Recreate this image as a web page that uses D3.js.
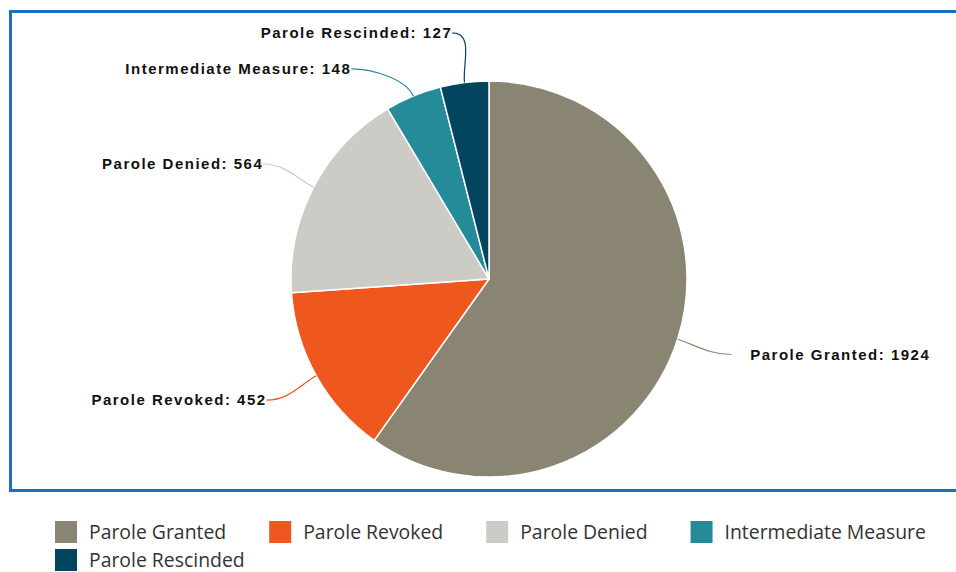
<!DOCTYPE html>
<html>
<head>
<meta charset="utf-8">
<script src="https://cdn.jsdelivr.net/npm/d3@7"></script>
<style>
  html, body { margin: 0; padding: 0; background: #fff; }
  svg { display: block; }
</style>
</head>
<body>
<svg id="chart" width="956" height="572"></svg>
<script>
// Parole outcomes, counts per category
const categories = ["Parole Granted", "Parole Revoked", "Parole Denied", "Intermediate Measure", "Parole Rescinded"];
const counts = [1924, 452, 564, 148, 127];
const colors = ["#8a8572", "#ee571d", "#cccbc6", "#268b98", "#03445f"];

const W = 956, H = 572;
const svg = d3.select("#chart");

// framed plot area
svg.append("rect")
  .attr("x", 10.5).attr("y", 11.5)
  .attr("width", 960).attr("height", 479)
  .attr("fill", "none")
  .attr("stroke", "#1a6fc0")
  .attr("stroke-width", 3);

const cx = 489, cy = 279, r = 198;
const data = categories.map((c, i) => ({ name: c, value: counts[i], color: colors[i] }));

const pie = d3.pie().value(d => d.value).sort(null);
const arcs = pie(data);
const arc = d3.arc().innerRadius(0).outerRadius(r);

const g = svg.append("g").attr("transform", `translate(${cx},${cy})`);

g.selectAll("path.slice")
  .data(arcs)
  .join("path")
  .attr("class", "slice")
  .attr("d", arc)
  .attr("fill", d => d.data.color)
  .attr("stroke", "#fff")
  .attr("stroke-width", 1.5)
  .attr("stroke-linejoin", "round");

// data labels placed on an outer ring, then nudged apart vertically
const R = r + 50;
const labels = arcs.map(a => {
  const mid = (a.startAngle + a.endAngle) / 2;
  return {
    a, mid,
    side: Math.sin(mid) >= 0 ? 1 : -1,
    y: -R * Math.cos(mid),
    text: `${a.data.name}: ${a.data.value}`
  };
});
[1, -1].forEach(side => {
  const group = labels.filter(l => l.side === side).sort((p, q) => p.y - q.y);
  for (let i = 1; i < group.length; i++) {
    group[i].y = Math.max(group[i].y, group[i - 1].y + 36);
  }
});
labels.forEach(l => {
  const dy = Math.max(-R, Math.min(R, l.y));
  l.x = l.side * Math.sqrt(R * R - dy * dy);
});

const lab = g.selectAll("g.lab").data(labels).join("g").attr("class", "lab");

lab.append("path")
  .attr("fill", "none")
  .attr("stroke", d => d.a.data.color)
  .attr("stroke-width", 1.2)
  .attr("d", d => {
    const ex = r * Math.sin(d.mid), ey = -r * Math.cos(d.mid);
    const mx = (r + 18) * Math.sin(d.mid), my = -(r + 18) * Math.cos(d.mid);
    const sx = d.x + (d.side > 0 ? 6 : -6), sy = d.y;
    return `M${sx},${sy} C${sx + d.side * -22},${sy} ${mx},${my} ${ex},${ey}`;
  });

lab.append("text")
  .attr("x", d => d.x + (d.side > 0 ? 25 : -6))
  .attr("y", d => d.y)
  .attr("dy", "0.35em")
  .attr("text-anchor", d => d.side > 0 ? "start" : "end")
  .attr("font-family", "'Liberation Sans', Arial, sans-serif")
  .attr("font-weight", "bold")
  .attr("font-size", 15)
  .attr("letter-spacing", "1.5px")
  .attr("fill", "#111")
  .text(d => d.text);

// legend below the frame, wrapping rows
const legend = svg.append("g").attr("class", "legend");
const lx0 = 55, lmax = 945, rowH = 28, sw = 22;
let lx = lx0, ly = 521;
data.forEach(d => {
  const item = legend.append("g");
  const t = item.append("text")
    .attr("x", sw + 12).attr("y", sw / 2)
    .attr("dy", "0.36em")
    .attr("font-family", "'Open Sans', sans-serif")
    .attr("font-size", 19.4)
    .attr("fill", "#333")
    .text(d.name);
  const w = sw + 12 + t.node().getComputedTextLength();
  if (lx + w > lmax) { lx = lx0; ly += rowH; }
  item.attr("transform", `translate(${lx},${ly})`);
  item.insert("rect", "text")
    .attr("width", sw).attr("height", sw)
    .attr("fill", d.color);
  lx += w + 43;
});
</script>
</body>
</html>
